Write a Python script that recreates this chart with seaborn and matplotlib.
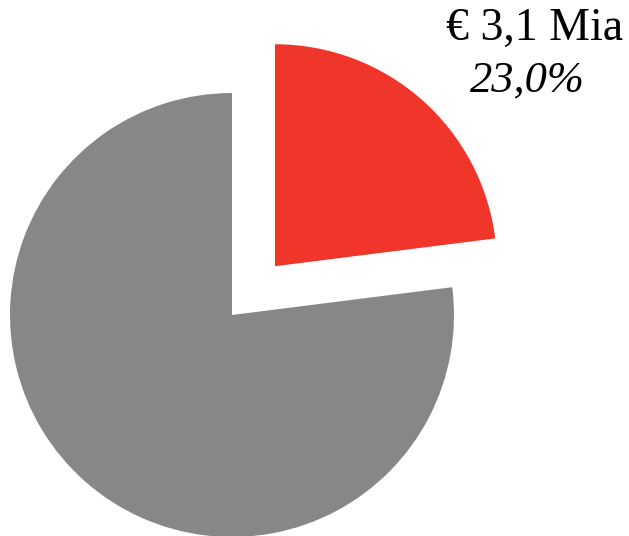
import matplotlib
matplotlib.use("Agg")
import matplotlib.pyplot as plt
import seaborn as sns

sns.set_theme(style="white")
plt.rcParams['font.family'] = ['Liberation Serif', 'DejaVu Serif']

# data
shares = [23.0, 77.0]
colors = ["#F0352B", "#878787"]
value_label = "€ 3,1 Mia"
pct_label = "23,0%"

fig = plt.figure(figsize=(6.29, 5.36), dpi=100)
ax = fig.add_axes([0, 0, 1, 1])

ax.pie(shares, colors=colors, startangle=90, counterclock=False,
       radius=222, center=(232, 221), explode=[65, 0],
       wedgeprops=dict(linewidth=0), frame=True)
# axes in pixel units so the pie matches the picture
ax.set_xlim(0, 629)
ax.set_ylim(0, 536)
ax.set_aspect("equal")
ax.axis("off")

ax.text(446, 496, value_label, fontsize=33, color="black", ha="left", va="baseline")
ax.text(470, 444, pct_label, fontsize=32, color="black", style="italic",
        ha="left", va="baseline")

fig.savefig("out.png", dpi=100)
